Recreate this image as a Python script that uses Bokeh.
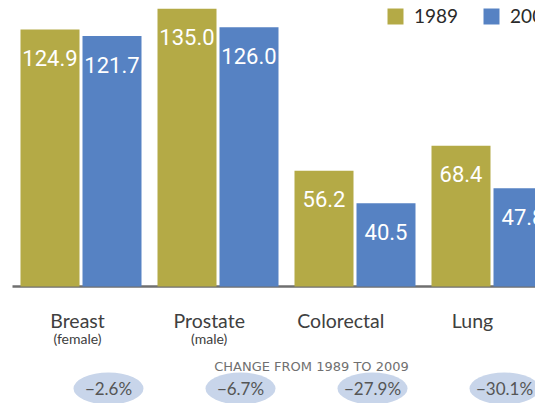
from bokeh.plotting import figure
from bokeh.models import Range1d, ColumnDataSource, Legend, LegendItem
from bokeh.transform import dodge
from bokeh.core.properties import value
from bokeh.embed import file_html
from bokeh.resources import INLINE

# ---- data ----
categories = ["Breast", "Prostate", "Colorectal", "Lung"]
subtitles = ["(female)", "(male)", "", ""]
rate_1989 = [124.9, 135.0, 56.2, 68.4]
rate_2009 = [121.7, 126.0, 40.5, 47.8]
change_labels = ["\u22122.6%", "\u22126.7%", "\u221227.9%", "\u221230.1%"]
years = ["1989", "2009"]
change_title = "CHANGE FROM 1989 TO 2009"

# ---- layout constants ----
W, H = 535, 403
GROUP_PX = 137.0          # px per group
X0_PX = 80.5              # px of first group centre
BASE_PX = 286.0           # px of baseline from top
PX_PER_UNIT = 2.058       # px per rate unit
BAR_W = 59 / GROUP_PX
BAR_OFF = 31 / GROUP_PX
LABEL_START, LABEL_PITCH = -0.0255, 0.961
OVAL_START, OVAL_PITCH = 0.2007, 0.9635

C89 = "#b4aa46"
C09 = "#5682c3"

n = len(categories)
idx = list(range(n))
src = ColumnDataSource(dict(
    x=idx,
    v89=rate_1989,
    v09=rate_2009,
    t89=[f"{v:.1f}" for v in rate_1989],
    t09=[f"{v:.1f}" for v in rate_2009],
))

p = figure(width=W, height=H, output_backend="svg", toolbar_location=None,
           x_range=Range1d(-X0_PX / GROUP_PX, (W - X0_PX) / GROUP_PX),
           y_range=Range1d(-(H - BASE_PX) / PX_PER_UNIT, BASE_PX / PX_PER_UNIT),
           min_border=0, outline_line_color=None)
p.axis.visible = False
p.grid.visible = False
p.background_fill_color = "white"
p.border_fill_color = "white"

# baseline
p.segment(x0=-(X0_PX - 12) / GROUP_PX, x1=(W - X0_PX) / GROUP_PX, y0=0, y1=0,
          line_color="#6f6f6f", line_width=2.5)

r89 = p.vbar(x=dodge("x", -BAR_OFF, range=p.x_range), top="v89", bottom=0, width=BAR_W,
             source=src, fill_color=C89, line_color=None)
r09 = p.vbar(x=dodge("x", BAR_OFF, range=p.x_range), top="v09", bottom=0, width=BAR_W,
             source=src, fill_color=C09, line_color=None)

lab_font = value("Roboto")
for off, vcol, tcol in ((-BAR_OFF, "v89", "t89"), (BAR_OFF, "v09", "t09")):
    p.text(x=dodge("x", off, range=p.x_range), y=vcol, text=tcol, source=src,
           text_color="white", text_align="center", text_baseline="middle",
           y_offset=28.5, text_font=lab_font, text_font_size="22px")

# category labels
lab_src = ColumnDataSource(dict(
    x=[LABEL_START + i * LABEL_PITCH for i in idx],
    y=[0] * n, cat=categories, sub=subtitles))
p.text(x="x", y="y", text="cat", source=lab_src, text_align="center",
       text_baseline="middle", y_offset=34, text_color="#404040",
       text_font=value("Lato"), text_font_size="19.5px")
p.text(x="x", y="y", text="sub", source=lab_src, text_align="center",
       text_baseline="middle", y_offset=52, text_color="#404040",
       text_font=value("Lato"), text_font_size="14px")

# change title
p.text(x=[(311 - X0_PX) / GROUP_PX], y=[0], text=[change_title], text_align="center",
       text_baseline="middle", y_offset=80, text_color="#707070",
       text_font=value("DejaVu Sans"), text_font_size="13px")

# ovals
ov_src = ColumnDataSource(dict(
    x=[OVAL_START + i * OVAL_PITCH for i in idx],
    y=[-(388 - BASE_PX) / PX_PER_UNIT] * n, t=change_labels))
p.ellipse(x="x", y="y", width=70, height=32, width_units="screen", height_units="screen",
          source=ov_src, fill_color="#c8d5ea", line_color=None)
p.text(x="x", y="y", text="t", source=ov_src, text_align="center", text_baseline="middle",
       text_color="#555555", text_font=value("Lato"), text_font_size="17px")

legend = Legend(items=[LegendItem(label=years[0], renderers=[r89]),
                       LegendItem(label=years[1], renderers=[r09])],
                orientation="horizontal", location=(385, H - 7 - 20),
                glyph_width=20, glyph_height=20, label_height=20,
                label_standoff=9, spacing=23, padding=0, margin=0,
                border_line_color=None, background_fill_alpha=0,
                label_text_font="Lato", label_text_font_size="19px",
                label_text_color="#2a2a2a")
p.add_layout(legend)

open("out.html", "w").write(file_html(p, INLINE))
